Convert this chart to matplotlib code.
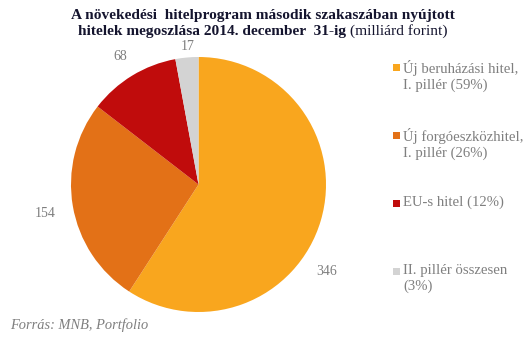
import matplotlib.pyplot as plt
from matplotlib.patches import Rectangle

# data (milliárd forint)
categories = ['Új beruházási hitel,\nI. pillér (59%)',
              'Új forgóeszközhitel,\nI. pillér (26%)',
              'EU-s hitel (12%)',
              'II. pillér összesen\n(3%)']
values = [346, 154, 68, 17]
colors = ['#F9A61E', '#E37117', '#C00C0C', '#D3D3D3']

# where Excel put the value labels, in pie-radius units
label_pos = [(1.008, -0.686), (-1.204, -0.224), (-0.616, 1.0), (-0.082, 1.086)]

W, H = 531, 342
serif = ['Liberation Serif', 'DejaVu Serif']
grey = '#7f7f7f'
navy = '#14142e'

fig = plt.figure(figsize=(W / 100, H / 100), dpi=100)
r = fig.canvas.get_renderer()


def fit(t, width):
    # shrink/grow a text so it spans the wanted pixel width
    w = t.get_window_extent(r).width
    t.set_fontsize(t.get_fontsize() * width / w)
    return t


ax = fig.add_axes([71 / W, (H - 312) / H, 255 / W, 255 / H])
ax.pie(values, colors=colors, startangle=90, counterclock=False,
       wedgeprops=dict(linewidth=0))
ax.set_xlim(-1, 1)
ax.set_ylim(-1, 1)
ax.set_aspect('equal')

for v, (x, y) in zip(values, label_pos):
    ax.text(x, y, str(v), ha='center', va='center', color=grey,
            fontsize=10, family=serif)

# title, second line is bold + normal
t0 = fig.text(263 / W, 1 - 15 / H, 'A növekedési  hitelprogram második szakaszában nyújtott',
              ha='center', va='center', fontsize=10, fontweight='bold',
              family=serif, color=navy)
fit(t0, 385)
fs = t0.get_fontsize()
t1 = fig.text(0, 1 - 31 / H, 'hitelek megoszlása 2014. december  31-ig ',
              ha='left', va='center', fontsize=fs, fontweight='bold',
              family=serif, color=navy)
t2 = fig.text(0, 1 - 31 / H, '(milliárd forint)', ha='left', va='center',
              fontsize=fs, family=serif, color=navy)
w1 = t1.get_window_extent(r).width
w2 = t2.get_window_extent(r).width
x0 = 263 - (w1 + w2) / 2
t1.set_x(x0 / W)
t2.set_x((x0 + w1) / W)

# legend, placed by hand
probe = fit(fig.text(0, 0, 'Új beruházási hitel,', fontsize=10, family=serif), 115)
lfs = probe.get_fontsize()
probe.remove()
for i, (lab, c) in enumerate(zip(categories, colors)):
    top = 60 + i * 68
    fig.add_artist(Rectangle((393 / W, 1 - (top + 11) / H), 7 / W, 7 / H,
                             transform=fig.transFigure, color=c, lw=0))
    fig.text(403 / W, 1 - top / H, lab, ha='left', va='top', fontsize=lfs,
             family=serif, color=grey, linespacing=1.2)

src = fig.text(10 / W, 1 - 325 / H, 'Forrás: MNB, Portfolio', ha='left', va='center',
               fontsize=10, style='italic', family=serif, color=grey)
fit(src, 138)

fig.savefig('out.png', dpi=100)
